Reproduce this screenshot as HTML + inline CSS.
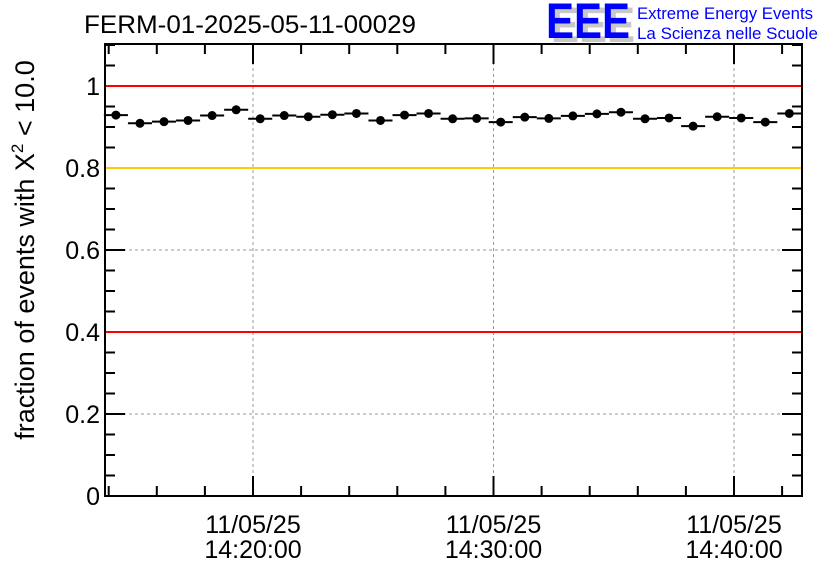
<!DOCTYPE html>
<html><head><meta charset="utf-8"><style>
body{margin:0;background:#fff;}
svg{display:block;font-family:"Liberation Sans",sans-serif;}
</style></head><body>
<svg id="chart" width="836" height="572">
<g>
<text x="551" y="42" font-size="50" font-weight="bold" fill="#c8c8c8" textLength="84" lengthAdjust="spacingAndGlyphs">EEE</text>
<text x="546" y="38" font-size="50" font-weight="bold" fill="#0000ff" textLength="84" lengthAdjust="spacingAndGlyphs">EEE</text>
<text x="637" y="19" font-size="16.5" fill="#0000ff" textLength="176" lengthAdjust="spacingAndGlyphs">Extreme Energy Events</text>
<text x="637" y="39" font-size="16.5" fill="#0000ff" textLength="181" lengthAdjust="spacingAndGlyphs">La Scienza nelle Scuole</text>
</g>
<text x="84" y="33" font-size="25" fill="#000" textLength="332" lengthAdjust="spacingAndGlyphs">FERM-01-2025-05-11-00029</text>
<text transform="translate(34,250) rotate(-90)" text-anchor="middle" font-size="27">fraction of events with Χ<tspan dy="-11" font-size="17">2</tspan><tspan dy="11"> &lt; 10.0</tspan></text>
<g id="plot"></g>
</svg>
<script>
// minutes relative to 14:20:00
const binCenters = [-5.7,-4.7,-3.7,-2.7,-1.7,-0.7,0.3,1.3,2.3,3.3,4.3,5.3,6.3,7.3,8.3,9.3,10.3,11.3,12.3,13.3,14.3,15.3,16.3,17.3,18.3,19.3,20.3,21.3,22.3];
const fractions = [0.929,0.909,0.913,0.916,0.928,0.942,0.920,0.928,0.925,0.930,0.933,0.916,0.929,0.933,0.920,0.921,0.912,0.924,0.921,0.927,0.932,0.936,0.920,0.922,0.902,0.925,0.922,0.912,0.933];
const yTicks = [0,0.2,0.4,0.6,0.8,1];
const yTickLabels = ["0","0.2","0.4","0.6","0.8","1"];
const xMajor = [0,10,20];
const xMajorLabels = [["11/05/25","14:20:00"],["11/05/25","14:30:00"],["11/05/25","14:40:00"]];
const refLines = [{v:1,c:"#ff0000"},{v:0.8,c:"#ffcc00"},{v:0.4,c:"#ff0000"}];

const L=105,R=802,T=44,B=496;
const X=t=>253+t*24.05;
const Y=v=>B-v*410;
const NS="http://www.w3.org/2000/svg";
const g=document.getElementById('plot');
function mk(tag,attrs,parent){const e=document.createElementNS(NS,tag);for(const k in attrs)e.setAttribute(k,attrs[k]);(parent||g).appendChild(e);return e;}
// grid
yTicks.forEach(v=>{if(v>0&&v<1.05){const l=mk('line',{x1:L,x2:R,y1:Y(v),y2:Y(v),stroke:'#999','stroke-dasharray':'3,3','stroke-width':1});

}});
xMajor.forEach(t=>{const l=mk('line',{x1:X(t),x2:X(t),y1:T,y2:B,stroke:'#999','stroke-dasharray':'3,3','stroke-width':1});

});
// y ticks
for(let i=0;i<=22;i++){const v=i*0.05;const len=(i%4==0)?20:10;
 mk('line',{x1:L,x2:L+len,y1:Y(v),y2:Y(v),stroke:'#000','stroke-width':2});
 mk('line',{x1:R,x2:R-len,y1:Y(v),y2:Y(v),stroke:'#000','stroke-width':2});}
refLines.forEach(r=>{const l=mk('line',{x1:L,x2:R,y1:Y(r.v),y2:Y(r.v),stroke:r.c,'stroke-width':2});

});
// frame
const fr=mk('rect',{x:L,y:T,width:R-L,height:B-T,fill:'none',stroke:'#000','stroke-width':2});


yTicks.forEach((v,i)=>{const t=mk('text',{x:L-5,y:Y(v)+9,'text-anchor':'end','font-size':25});t.textContent=yTickLabels[i];

});
// x ticks
for(let m=-6;m<=22;m+=2){const x=X(m);if(x<L-1)continue;const len=(m%10==0)?20:10;
 mk('line',{x1:x,x2:x,y1:B,y2:B-len,stroke:'#000','stroke-width':2});
 mk('line',{x1:x,x2:x,y1:T,y2:T+len,stroke:'#000','stroke-width':2});}
xMajor.forEach((t,i)=>{xMajorLabels[i].forEach((s,j)=>{const e=mk('text',{x:X(t),y:533+j*25,'text-anchor':'middle','font-size':25});e.textContent=s;

});});
// data
binCenters.forEach((t,i)=>{const y=Y(fractions[i]);
 const eb=mk('line',{x1:X(t-0.5),x2:X(t+0.5),y1:y,y2:y,stroke:'#000','stroke-width':2});
 
 
 const c=mk('circle',{cx:X(t),cy:y,r:4.5,fill:'#000'});
 
 });
</script>
</body></html>
